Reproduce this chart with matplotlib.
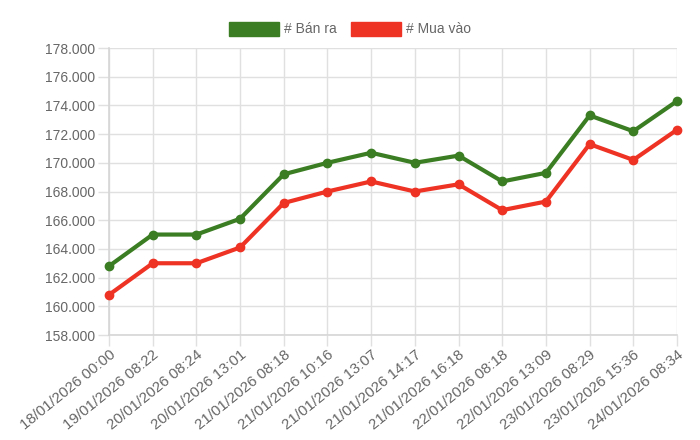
import matplotlib
matplotlib.use("Agg")
import matplotlib.pyplot as plt
from matplotlib.patches import Patch

labels = ["18/01/2026 00:00", "19/01/2026 08:22", "20/01/2026 08:24", "20/01/2026 13:01",
          "21/01/2026 08:18", "21/01/2026 10:16", "21/01/2026 13:07", "21/01/2026 14:17",
          "21/01/2026 16:18", "22/01/2026 08:18", "22/01/2026 13:09", "23/01/2026 08:29",
          "23/01/2026 15:36", "24/01/2026 08:34"]
ban_ra = [162.8, 165.0, 165.0, 166.1, 169.2, 170.0, 170.7, 170.0, 170.5, 168.7, 169.3, 173.3, 172.2, 174.3]
mua_vao = [160.8, 163.0, 163.0, 164.1, 167.2, 168.0, 168.7, 168.0, 168.5, 166.7, 167.3, 171.3, 170.2, 172.3]
y_ticks = [158, 160, 162, 164, 166, 168, 170, 172, 174, 176, 178]

green = "#3a7d22"
red = "#ee3224"
text_color = "#666666"

plt.rcParams["font.family"] = ["Liberation Sans", "DejaVu Sans"]

fig = plt.figure(figsize=(7, 4.4), dpi=100)
ax = fig.add_axes([109 / 700, 1 - 335 / 440, (677 - 109) / 700, (335 - 48) / 440])

x = list(range(len(labels)))
ax.plot(x, ban_ra, color=green, lw=3, marker="o", ms=6, zorder=3, clip_on=False)
ax.plot(x, mua_vao, color=red, lw=3, marker="o", ms=6, zorder=3, clip_on=False)

ax.set_xlim(0, len(labels) - 1)
ax.set_ylim(158, 178)
ax.set_yticks(y_ticks)
ax.set_yticklabels(["%d.000" % v for v in y_ticks])
ax.set_xticks(x)
ax.set_xticklabels(labels, rotation=39, ha="right", rotation_mode="anchor")

ax.grid(True, color="#e0e0e0", lw=1)
ax.set_axisbelow(True)
for s in ["top", "right"]:
    ax.spines[s].set_visible(False)
for s in ["left", "bottom"]:
    ax.spines[s].set_color("#d6d6d6")
    ax.spines[s].set_linewidth(1.2)
ax.tick_params(axis="both", colors="#e0e0e0", labelcolor=text_color, labelsize=10, length=8, width=1)
ax.tick_params(axis="y", pad=2)
ax.tick_params(axis="x", pad=1, labelsize=10.8)

handles = [Patch(facecolor=green, edgecolor=green), Patch(facecolor=red, edgecolor=red)]
fig.legend(handles, ["# Bán ra", "# Mua vào"], loc="center", bbox_to_anchor=(0.5, 1 - 29 / 440),
           ncol=2, frameon=False, fontsize=10, labelcolor=text_color,
           handlelength=3.6, handleheight=1.2, handletextpad=0.4, columnspacing=1.0)

fig.savefig("out.png", dpi=100, facecolor="white")
